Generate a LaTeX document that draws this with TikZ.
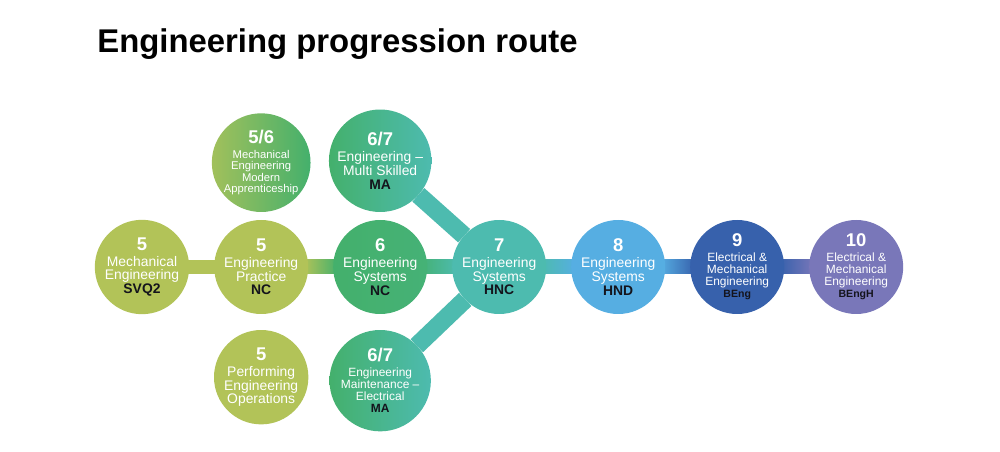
\documentclass[tikz,border=0pt]{standalone}
\usepackage{fontspec}
\setmainfont{Liberation Sans}
\usetikzlibrary{positioning,calc,backgrounds}
\definecolor{lvlolive}{RGB}{178,195,88}
\definecolor{lvlgreen}{RGB}{68,176,108}
\definecolor{lvlteal}{RGB}{77,187,175}
\definecolor{lvlblue}{RGB}{86,174,226}
\definecolor{lvlnavy}{RGB}{55,97,172}
\definecolor{lvlpurple}{RGB}{121,119,185}
\definecolor{codeblack}{RGB}{20,20,28}
\newcommand{\lvl}[1]{{\fontsize{10.5}{10.5}\selectfont\bfseries #1}}
\newcommand{\qual}[1]{{\bfseries\color{codeblack}#1}}
\tikzstyle{stage}=[circle,minimum size=1.88cm,inner sep=0pt,outer sep=0pt,align=center,text=white,font=\fontsize{7.9}{7.8}\selectfont]
\tikzstyle{smalltxt}=[font=\fontsize{6.8}{6.9}\selectfont]
\tikzstyle{tinytxt}=[font=\fontsize{6.4}{6.6}\selectfont]
\tikzstyle{bar}=[line width=0.36cm]

\begin{document}
\begin{tikzpicture}[node distance=0.5cm]
\useasboundingbox (0,0) rectangle (20,-9.04);
\node[anchor=base west,inner sep=0pt,font=\fontsize{18.7}{22}\selectfont\bfseries] (T) at (1.94,-1.06) {Engineering progression route};
% main route
\node[stage,fill=lvlolive] (A) at (2.84,-5.34) {\lvl{5}\\[1.3pt]Mechanical\\Engineering\\\qual{SVQ2}};
\node[stage,fill=lvlolive,right=of A] (B) {\lvl{5}\\[1.3pt]Engineering\\Practice\\\qual{NC}};
\node[stage,left color=lvlgreen,right color=lvlgreen!85!lvlteal,right=of B] (C) {\lvl{6}\\[1.3pt]Engineering\\Systems\\\qual{NC}};
\node[stage,fill=lvlteal,right=of C] (D) {\lvl{7}\\[1.3pt]Engineering\\Systems\\\qual{HNC}};
\node[stage,fill=lvlblue,right=of D] (E) {\lvl{8}\\[1.3pt]Engineering\\Systems\\\qual{HND}};
\node[stage,smalltxt,fill=lvlnavy,right=of E] (F) {\lvl{9}\\[1.3pt]Electrical \&\\Mechanical\\Engineering\\{\fontsize{6}{6}\selectfont\qual{BEng}}};
\node[stage,smalltxt,fill=lvlpurple,right=of F] (G) {\lvl{10}\\[1.3pt]Electrical \&\\Mechanical\\Engineering\\{\fontsize{6}{6}\selectfont\qual{BEngH}}};
% side routes
\node[stage,tinytxt,left color=lvlolive!85!lvlgreen,right color=lvlgreen,above=0.16cm of B] (B1) {\lvl{5/6}\\[1.8pt]Mechanical\\Engineering\\Modern\\Apprenticeship};
\node[stage,left color=lvlgreen,right color=lvlteal,above=0.16cm of C] (C1) {\lvl{6/7}\\[1.3pt]Engineering --\\Multi Skilled\\\qual{MA}};
\node[stage,fill=lvlolive,below=0.32cm of B] (B2) {\lvl{5}\\[1.3pt]Performing\\Engineering\\Operations};
\node[stage,smalltxt,left color=lvlgreen,right color=lvlteal,below=0.32cm of C] (C2) {\lvl{6/7}\\[1.3pt]Engineering\\Maintenance --\\Electrical\\\qual{MA}};
\begin{pgfonlayer}{background}
\fill[lvlolive] ($(A.east)+(-0.1,-0.14)$) rectangle ($(B.west)+(0.1,0.14)$);
\shade[left color=lvlolive,right color=lvlgreen] ($(B.east)+(-0.1,-0.14)$) rectangle ($(C.west)+(0.1,0.14)$);
\shade[left color=lvlgreen!85!lvlteal,right color=lvlteal] ($(C.east)+(-0.1,-0.14)$) rectangle ($(D.west)+(0.1,0.14)$);
\shade[left color=lvlteal,right color=lvlblue] ($(D.east)+(-0.1,-0.14)$) rectangle ($(E.west)+(0.1,0.14)$);
\shade[left color=lvlblue,right color=lvlnavy] ($(E.east)+(-0.1,-0.14)$) rectangle ($(F.west)+(0.1,0.14)$);
\shade[left color=lvlnavy,right color=lvlpurple] ($(F.east)+(-0.1,-0.14)$) rectangle ($(G.west)+(0.1,0.14)$);
\draw[bar,lvlteal] (C1) -- (D);
\draw[bar,lvlteal] (C2) -- (D);
\end{pgfonlayer}
\end{tikzpicture}
\end{document}
